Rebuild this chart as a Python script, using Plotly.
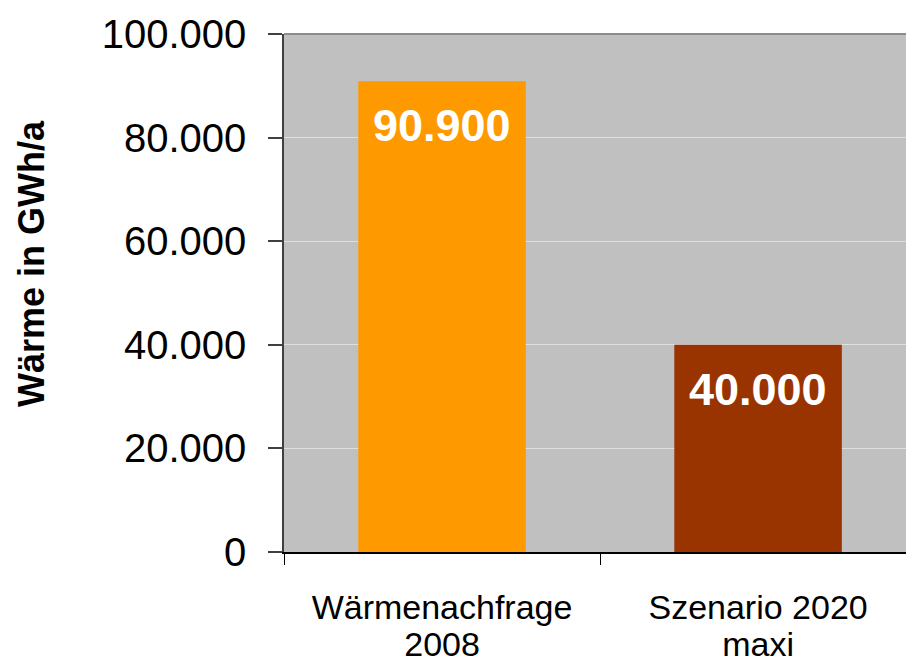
import plotly.graph_objects as go

categories = ["Wärmenachfrage<br>2008", "Szenario 2020<br>maxi"]
values = [90900, 40000]
colors = ["#FF9900", "#993300"]
y_tickvals = [0, 20000, 40000, 60000, 80000, 100000]
y_ticktext = ["0", "20.000", "40.000", "60.000", "80.000", "100.000"]
y_title = "Wärme in GWh/a"

FONT = "Liberation Sans, Arial, sans-serif"

def fmt(v):
    return f"{v:,}".replace(",", ".")

def big(label):
    return "<br>".join(f'<span style="font-size:34px">{p}</span>' for p in label.split("<br>"))

ticktext_x = [big(c) for c in categories]

fig = go.Figure()
fig.add_trace(go.Bar(
    x=categories, y=values, marker=dict(color=colors, line=dict(width=0)),
    width=0.53, hoverinfo="skip",
))

for c, v in zip(categories, values):
    fig.add_annotation(x=c, y=v, text=f"<b>{fmt(v)}</b>", showarrow=False,
                       yanchor="top", yshift=-17,
                       font=dict(family=FONT, size=45, color="white"))

fig.add_annotation(xref="paper", yref="paper", x=-0.405, y=0.556,
                   text=f"<b>{y_title}</b>", textangle=-90, showarrow=False,
                   xanchor="center", yanchor="middle",
                   font=dict(family=FONT, size=36, color="black"))

# top border of plot area
fig.add_shape(type="line", xref="paper", yref="y domain", x0=0, x1=1, y0=1, y1=1,
              line=dict(color="#8c8c8c", width=2))

fig.update_layout(
    width=906, height=664,
    margin=dict(l=284, r=0, t=34, b=112),
    paper_bgcolor="white", plot_bgcolor="#C0C0C0",
    showlegend=False,
    xaxis=dict(
        type="category", categoryorder="array", categoryarray=categories,
        tickmode="array", tickvals=categories, ticktext=ticktext_x,
        range=[-0.5, 1.468], automargin=False,
        ticks="outside", ticklen=11, tickcolor="black", tickwidth=1,
        tickson="boundaries",
        showline=True, linecolor="black", linewidth=1.5,
        showgrid=False, zeroline=False,
        tickfont=dict(family=FONT, size=29, color="black"),
        ticklabelstandoff=30,
    ),
    yaxis=dict(
        range=[0, 100000], tickmode="array", tickvals=y_tickvals, ticktext=y_ticktext,
        automargin=False,
        ticks="outside", ticklen=14, tickcolor="#404040", tickwidth=1.5,
        showline=True, linecolor="#404040", linewidth=1.5,
        showgrid=True, gridcolor="#E0E0E0", gridwidth=1, zeroline=False,
        tickfont=dict(family=FONT, size=40, color="black"),
        ticklabelstandoff=14,
    ),
)

fig.write_html(
    "out.html",
    config={"displayModeBar": False},
    post_script="document.body.style.margin='0';document.body.style.overflow='hidden';",
)
